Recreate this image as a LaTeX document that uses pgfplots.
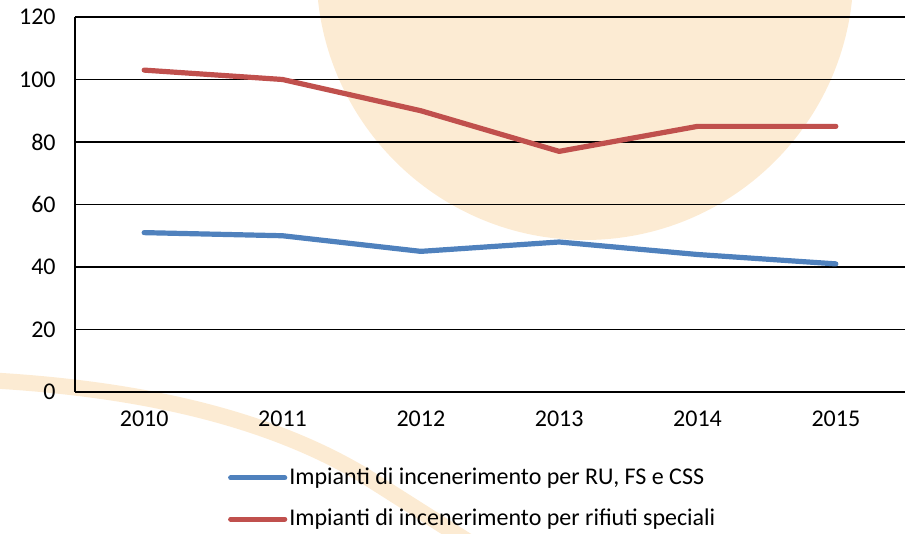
\documentclass[border=0pt]{standalone}
\usepackage{fontspec}
\setmainfont{Carlito}
\usepackage{pgfplots}
\pgfplotsset{compat=1.18}
\usetikzlibrary{backgrounds}
\definecolor{wm}{RGB}{252,235,211}
\definecolor{sblue}{RGB}{79,129,189}
\definecolor{sred}{RGB}{192,80,77}
\begin{document}
\fontsize{12}{14}\selectfont
\begin{tikzpicture}
\begin{axis}[
  at={(0,0)}, anchor=south west,
  scale only axis, width=415pt, height=187.5pt,
  xmin=-0.5, xmax=5.5, ymin=0, ymax=120,
  xtick={0,1,2,3,4,5},
  xticklabels={2010,2011,2012,2013,2014,2015},
  ytick={0,20,40,60,80,100,120},
  axis x line*=bottom, axis y line*=left,
  axis line style={black, line width=0.9pt},
  ymajorgrids, grid style={black, line width=0.9pt},
  major tick length=0pt,
  tick label style={font=\fontsize{12}{14}\selectfont},
  /pgf/number format/assume math mode=true,
  yticklabel style={xshift=-5.5pt},
  xticklabel style={yshift=-5.5pt},
  legend style={draw=none, fill=none, at={(axis description cs:0.184,-0.284)}, anchor=west,
    inner sep=0pt, row sep=10.5pt, nodes={inner xsep=1pt, inner ysep=0pt},
    font=\fontsize{12}{14}\selectfont},
  legend cell align=left,
  legend image code/.code={\draw[#1, line cap=round] (0pt,0pt) -- (27pt,0pt);},
]
\addplot[sblue, line width=2.6pt, line cap=round, line join=round] coordinates {(0,51) (1,50) (2,45) (3,48) (4,44) (5,41)};
\addlegendentry{Impianti di incenerimento per RU, FS e CSS}
\addplot[sred, line width=2.6pt, line cap=round, line join=round] coordinates {(0,103) (1,100) (2,90) (3,77) (4,85) (5,85)};
\addlegendentry{Impianti di incenerimento per rifiuti speciali}
\end{axis}
\begin{scope}[on background layer]
\fill[wm] (255pt,210.25pt) circle (134.25pt);
\draw[wm, line width=8pt] (-45pt,6pt) .. controls (30pt,2pt) and (95pt,-12pt) .. (145pt,-42pt) -- (208pt,-82pt);
\end{scope}
\pgfresetboundingbox
\useasboundingbox (-37.5pt,-71pt) rectangle (415.5pt,196pt);
\end{tikzpicture}
\end{document}
